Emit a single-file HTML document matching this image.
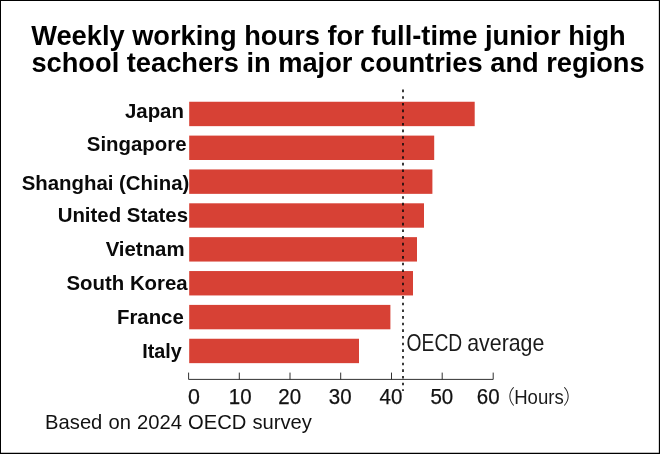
<!DOCTYPE html>
<html lang="en">
<head>
<meta charset="utf-8">
<title>Weekly working hours for full-time junior high school teachers</title>
<style>
html,body{margin:0;padding:0;background:#fff;}
body{width:660px;height:454px;overflow:hidden;position:relative;}
svg{position:absolute;left:0;top:0;display:block;will-change:transform;}
.t{font-family:"Liberation Sans",sans-serif;font-weight:700;font-size:27.25px;fill:#000;}
.c{font-family:"Liberation Sans",sans-serif;font-weight:700;font-size:20.4px;fill:#0a0a0a;}
.f{font-family:"Liberation Sans",sans-serif;font-weight:400;font-size:20.2px;fill:#111;word-spacing:0.5px;}
.n{font-family:"Liberation Sans","Noto Sans CJK JP",sans-serif;font-weight:400;font-size:21.4px;fill:#111;stroke:#111;stroke-width:0.25px;}
.h{font-family:"Liberation Sans","Noto Sans CJK JP",sans-serif;font-weight:400;font-size:20.8px;fill:#1a1a1a;}
.p{font-family:"Liberation Sans","Noto Sans CJK JP",sans-serif;font-weight:300;font-size:19.8px;fill:#1a1a1a;}
.o{font-family:"Liberation Sans","Noto Sans CJK JP",sans-serif;font-weight:400;font-size:23.2px;fill:#1a1a1a;}
</style>
</head>
<body>
<svg width="660" height="454" viewBox="0 0 660 454">
<!-- border -->
<path d="M0 0H660V454H0Z M1 1V452.85H658.85V1Z" fill="#000" fill-rule="evenodd"/>
<!-- title -->
<text class="t" x="31.2" y="44.9">Weekly working hours for full-time junior high</text>
<text class="t" x="31.4" y="72.3">school teachers in major countries and regions</text>
<!-- bars -->
<g fill="#d74135">
<rect x="189.2" y="101.75" width="285.5" height="24.4"/>
<rect x="189.2" y="135.60" width="245.0" height="24.4"/>
<rect x="189.2" y="169.45" width="243.2" height="24.4"/>
<rect x="189.2" y="203.30" width="234.8" height="24.4"/>
<rect x="189.2" y="237.15" width="227.8" height="24.4"/>
<rect x="189.2" y="271.05" width="223.8" height="24.4"/>
<rect x="189.2" y="304.90" width="201.2" height="24.4"/>
<rect x="189.2" y="338.75" width="169.8" height="24.4"/>
</g>
<!-- labels -->
<g class="c" text-anchor="end">
<text x="183.9" y="117.6">Japan</text>
<text x="186.5" y="151.3">Singapore</text>
<text x="189.3" y="190.0">Shanghai (China)</text>
<text x="188" y="221.8">United States</text>
<text x="184.6" y="256.2">Vietnam</text>
<text x="187.7" y="289.7">South Korea</text>
<text x="183.8" y="323.9">France</text>
<text x="181.8" y="357.6" textLength="39.6" lengthAdjust="spacingAndGlyphs">Italy</text>
</g>
<!-- axis -->
<g stroke="#1a1a1a" stroke-width="0.9" fill="none">
<path d="M188.6 372.6V379.4H493.2V372.6"/>
<path d="M239.3 372.6V379.4M290.0 372.6V379.4M340.7 372.6V379.4M391.5 372.6V379.4M442.2 372.6V379.4"/>
</g>
<!-- OECD avg dotted line -->
<path d="M403 89.6V391" stroke="#0a0a0a" stroke-width="1.6" stroke-dasharray="2.6 4.06" fill="none"/>
<!-- tick labels -->
<g class="n" text-anchor="middle">
<text x="194" y="403.6">0</text>
<text x="240.2" y="403.6" textLength="22.8" lengthAdjust="spacingAndGlyphs">10</text>
<text x="289.7" y="403.6" textLength="22.8" lengthAdjust="spacingAndGlyphs">20</text>
<text x="340.2" y="403.6" textLength="22.8" lengthAdjust="spacingAndGlyphs">30</text>
<text x="391" y="403.6" textLength="22.8" lengthAdjust="spacingAndGlyphs">40</text>
<text x="441.8" y="403.6" textLength="22.8" lengthAdjust="spacingAndGlyphs">50</text>
<text x="488.2" y="403.6" textLength="22.8" lengthAdjust="spacingAndGlyphs">60</text>
</g>
<text y="403.6"><tspan class="p" x="495.2">（</tspan><tspan class="h" x="514.2" textLength="49.5" lengthAdjust="spacingAndGlyphs">Hours</tspan><tspan class="p" x="563">）</tspan></text>
<text class="o" y="350.6"><tspan x="406.6" textLength="55.6" lengthAdjust="spacingAndGlyphs">OECD</tspan> <tspan x="467.2" textLength="77.2" lengthAdjust="spacingAndGlyphs">average</tspan></text>
<text class="f" x="45.1" y="429.1">Based on 2024 OECD survey</text>
</svg>
</body>
</html>
